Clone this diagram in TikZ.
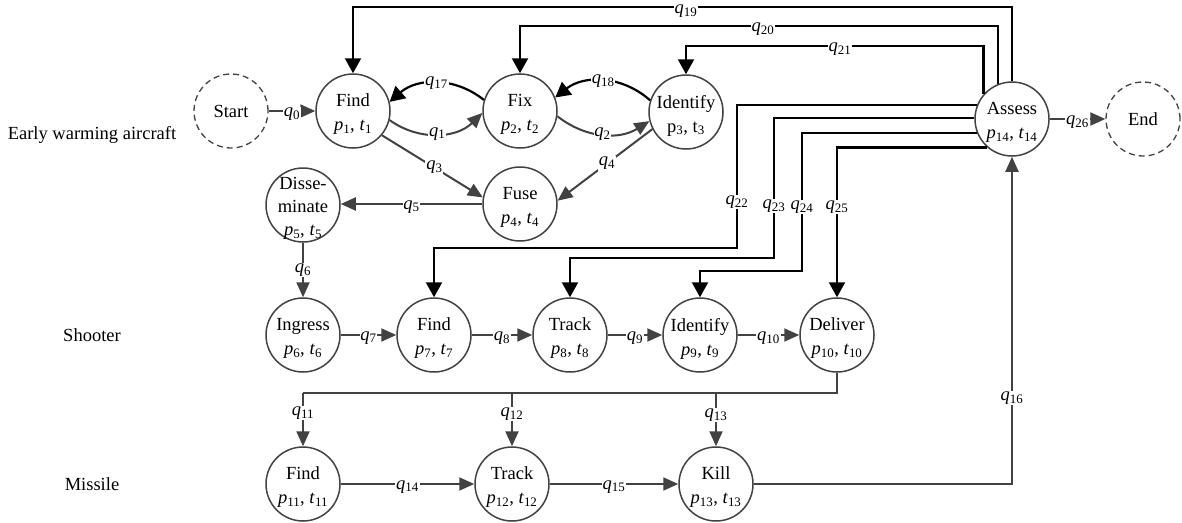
\documentclass[tikz,border=0pt]{standalone}
\usepackage{fontspec}
\setmainfont{Liberation Serif}
\usetikzlibrary{arrows.meta}
\definecolor{lg}{RGB}{66,66,66}
\newcommand\qq[1]{\textit{q}\textsubscript{#1}}
\newcommand\ptt[2]{\textit{p}\textsubscript{#1}, \textit{t}\textsubscript{#2}}
\tikzset{
  st/.style={circle, draw=lg, line width=1.5pt, minimum size=74pt, inner sep=0pt},
  termst/.style={st, dash pattern=on 6pt off 4pt, line width=1.3pt},
  txt/.style={align=center, inner sep=0pt, font=\fontsize{18.5}{24}\selectfont},
  ga/.style={draw=lg, line width=2pt, -{Triangle[length=15pt,width=13pt]}},
  ba/.style={draw=black, line width=2.2pt, -{Triangle[length=15pt,width=16pt]}},
  gl/.style={draw=lg, line width=2pt},
  lab/.style={fill=white, inner sep=0.8pt, font=\fontsize{18.5}{20}\selectfont},
  labh/.style={lab, yshift=-3pt},
}
\newcommand\mystate[4]{%
  \node[st] (#1) at (#2,-#3) {};
  \node[txt] (#1t) at ([yshift=-3.5pt]#1.center) {#4};}
\begin{document}
\begin{tikzpicture}[x=1pt,y=1pt]
\useasboundingbox (0,0) rectangle (1182,-522);
% row labels
\node[txt] (rowA) at (92,-135) {Early warming aircraft};
\node[txt] (rowB) at (92,-335) {Shooter};
\node[txt] (rowC) at (92,-484) {Missile};
% terminals
\node[termst] (start) at (231,-111) {};
\node[txt] (startt) at (start) {Start};
\node[termst] (end) at (1143,-119) {};
\node[txt] (endt) at (end) {End};
% early warning aircraft
\mystate{find1}{353}{111}{Find\\\ptt{1}{1}}
\mystate{fix}{520}{111}{Fix\\\ptt{2}{2}}
\mystate{ident1}{686}{112}{Identify\\p\textsubscript{3}, t\textsubscript{3}}
\mystate{fuse}{520}{204}{Fuse\\\ptt{4}{4}}
\node[st] (dis) at (303,-205) {};
\node[txt,font=\fontsize{18.5}{23}\selectfont] (dist) at ([yshift=-3.5pt]dis.center) {Disse-\\minate\\\ptt{5}{5}};
\mystate{assess}{1012}{119}{Assess\\\ptt{14}{14}}
% shooter
\mystate{ingress}{303}{335}{Ingress\\\ptt{6}{6}}
\mystate{find2}{434}{335}{Find\\\ptt{7}{7}}
\mystate{track2}{570}{335}{Track\\\ptt{8}{8}}
\mystate{ident2}{700}{335}{Identify\\\ptt{9}{9}}
\mystate{deliver}{837}{335}{Deliver\\\ptt{10}{10}}
% missile
\mystate{find3}{303}{484}{Find\\\ptt{11}{11}}
\mystate{track3}{512}{484}{Track\\\ptt{12}{12}}
\mystate{kill}{716}{484}{Kill\\\ptt{13}{13}}
% helper coordinates
\coordinate (h19) at (0,-7);
\coordinate (h20) at (0,-26);
\coordinate (h21) at (0,-46);
\coordinate (c22) at (737,-248);
\coordinate (c23) at (774,-258);
\coordinate (c24) at (802,-271);
\coordinate (bus) at (0,-393);
% main chain
\draw[ga] (start.east) -- node[labh]{\qq{0}} (find1.west);
\draw[ga] (find1.-14) to[bend right=40] node[lab]{\qq{1}} (fix.183);
\draw[ga] (fix.-8) to[bend right=35] node[lab]{\qq{2}} (ident1.194);
\draw[ga] (find1.-40) -- node[lab,pos=.52]{\qq{3}} (fuse.170);
\draw[ga] (ident1.207) -- node[lab,pos=.48]{\qq{4}} (fuse.5);
\draw[ga] (fuse.west) -- node[labh]{\qq{5}} (fuse.west -| dis.east);
\draw[ga] (dis.south) -- node[lab]{\qq{6}} (ingress.north);
\draw[ga] (ingress.east) -- node[labh]{\qq{7}} (find2.west);
\draw[ga] (find2.east) -- node[labh]{\qq{8}} (track2.west);
\draw[ga] (track2.east) -- node[labh]{\qq{9}} (ident2.west);
\draw[ga] (ident2.east) -- node[labh]{\qq{10}} (deliver.west);
\draw[gl] (deliver.south) -- (deliver.south |- bus) -- (bus -| find3.north);
\draw[ga] (bus -| find3.north) -- node[lab,pos=.38]{\qq{11}} (find3.north);
\draw[ga] (bus -| track3.north) -- node[lab,pos=.4]{\qq{12}} (track3.north);
\draw[ga] (bus -| kill.north) -- node[lab,pos=.42]{\qq{13}} (kill.north);
\draw[ga] (find3.east) -- node[labh]{\qq{14}} (track3.west);
\draw[ga] (track3.east) -- node[labh]{\qq{15}} (kill.west);
\draw[ga] (kill.east) -| (assess.south);
\draw[ga] (assess.east) -- node[labh]{\qq{26}} (end.west);
% feedback
\draw[ba] (fix.163) to[bend right=40] node[lab]{\qq{17}} (find1.14);
\draw[ba] (ident1.162) to[bend right=40] node[lab]{\qq{18}} (fix.21);
\draw[ba] (assess.north) |- (h19 -| find1.north) -- (find1.north);
\draw[ba] (assess.112) |- (h20 -| fix.north) -- (fix.north);
\draw[ba] (assess.139) |- (h21 -| ident1.north) -- (ident1.north);
\draw[ba] (assess.158) -| (c22) -| (find2.north);
\draw[ba] (assess.178) -| (c23) -| (track2.north);
\draw[ba] (assess.202) -| (c24) -| (ident2.north);
\draw[ba] (assess.229) -| (deliver.north);
% labels on routed lines
\node[lab] (l16) at (1012,-398) {\qq{16}};
\node[lab] (l19) at (686,-11) {\qq{19}};
\node[lab] (l20) at (763,-29) {\qq{20}};
\node[lab] (l21) at (840,-49) {\qq{21}};
\node[lab] (l22) at (737,-202) {\qq{22}};
\node[lab] (l23) at (774,-206) {\qq{23}};
\node[lab] (l24) at (802,-207) {\qq{24}};
\node[lab] (l25) at (837,-207) {\qq{25}};
\end{tikzpicture}
\end{document}
